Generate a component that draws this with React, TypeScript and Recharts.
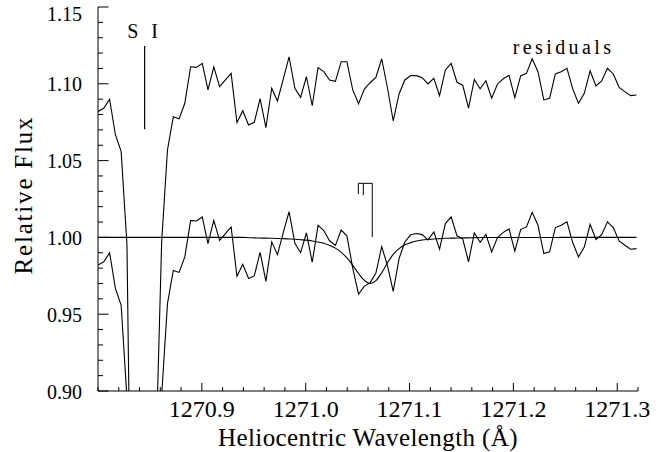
import React from "react";
import {
  LineChart,
  Line,
  XAxis,
  YAxis,
  ReferenceLine,
  ReferenceDot,
} from "recharts";

const FONT = '"Liberation Serif", "DejaVu Serif", serif';
const txt = { fontFamily: FONT, fill: "#000" };

// wavelength grid (Å), one entry per pixel of the spectrum
const wavelength = [
  1270.8, 1270.8056, 1270.8112, 1270.8167, 1270.8223, 1270.8279, 1270.8335, 1270.839,
  1270.8446, 1270.8502, 1270.8558, 1270.8613, 1270.8669, 1270.8725, 1270.8781, 1270.8836,
  1270.8892, 1270.8948, 1270.9004, 1270.9059, 1270.9115, 1270.9171, 1270.9227, 1270.9282,
  1270.9338, 1270.9394, 1270.945, 1270.9505, 1270.9561, 1270.9617, 1270.9673, 1270.9728,
  1270.9784, 1270.984, 1270.9896, 1270.9951, 1271.0007, 1271.0063, 1271.0119, 1271.0174,
  1271.023, 1271.0286, 1271.0342, 1271.0397, 1271.0453, 1271.0509, 1271.0565, 1271.062,
  1271.0676, 1271.0732, 1271.0788, 1271.0843, 1271.0899, 1271.0955, 1271.1011, 1271.1066,
  1271.1122, 1271.1178, 1271.1234, 1271.1289, 1271.1345, 1271.1401, 1271.1457, 1271.1512,
  1271.1568, 1271.1624, 1271.168, 1271.1735, 1271.1791, 1271.1847, 1271.1903, 1271.1958,
  1271.2014, 1271.207, 1271.2126, 1271.2181, 1271.2237, 1271.2293, 1271.2349, 1271.2404,
  1271.246, 1271.2516, 1271.2572, 1271.2627, 1271.2683, 1271.2739, 1271.2795, 1271.285,
  1271.2906, 1271.2962, 1271.3018, 1271.3073, 1271.3129, 1271.3185,
];

// normalised flux
const flux = [
  0.982, 0.9841, 0.99, 0.967, 0.9558, 0.895, 0.6, 0.35,
  0.28, 0.4, 0.76, 0.897, 0.9569, 0.9785, 0.9772, 0.9873,
  1.0111, 1.0107, 1.0133, 0.996, 1.0111, 0.9981, 1.0025, 1.0068,
  0.9747, 0.9825, 0.9732, 0.9749, 0.9903, 0.9714, 0.9971, 0.9888,
  1.0031, 1.0168, 0.9962, 0.99, 1.003, 0.9838, 1.0078, 1.0045,
  0.9978, 0.9948, 1.0048, 1.001, 0.98, 0.963, 0.9683, 0.9704,
  0.9768, 0.994, 0.9815, 0.9648, 0.9862, 0.997, 1.0017, 1.0025,
  1.0018, 0.9984, 1.0036, 0.9923, 1.009, 1.0133, 1.001, 0.9991,
  0.9841, 1.0029, 0.9968, 1.002, 0.9906, 0.9999, 1.0033, 1.0055,
  0.991, 1.0051, 1.0068, 1.0163, 1.0079, 0.9895, 0.9906, 1.0064,
  1.0079, 1.0101, 0.9965, 0.9873, 0.9938, 1.0085, 0.9986, 1.0018,
  1.0101, 1.0064, 0.9977, 0.9949, 0.9923, 0.9927,
];

// profile fit
const fit = [
  1, 1, 1, 1, 1, 1, 1, 1,
  1, 1, 1, 1, 1, 1, 1, 1,
  1, 1, 1, 1, 1, 1, 1, 1,
  1, 1, 0.9998, 0.9997, 0.9996, 0.9995, 0.9994, 0.9993,
  0.9992, 0.999, 0.9988, 0.9985, 0.9982, 0.9977, 0.997, 0.9962,
  0.9948, 0.993, 0.9903, 0.9866, 0.9818, 0.9765, 0.972, 0.97,
  0.9718, 0.977, 0.9835, 0.989, 0.9927, 0.9952, 0.9966, 0.9976,
  0.9983, 0.9987, 0.999, 0.9992, 0.9994, 0.9995, 0.9996, 0.9997,
  0.9997, 0.9998, 0.9999, 0.9999, 0.9999, 0.9999, 0.9999, 0.9999,
  0.9999, 0.9999, 0.9999, 0.9999, 0.9999, 0.9999, 0.9999, 0.9999,
  1, 1, 1, 1, 1, 1, 1, 1,
  1, 1, 1, 1, 1, 1,
];

// residuals, plotted with a +0.1 offset
const residuals = [
  1.082, 1.0841, 1.09, 1.067, 1.0558, 0.995, 0.7, 0.45,
  0.38, 0.5, 0.86, 0.997, 1.0569, 1.0785, 1.0772, 1.0873,
  1.1111, 1.1107, 1.1133, 1.096, 1.1111, 1.0981, 1.1025, 1.1068,
  1.0747, 1.0825, 1.0732, 1.0749, 1.0903, 1.0714, 1.0971, 1.0888,
  1.1031, 1.1176, 1.0971, 1.0912, 1.1046, 1.0857, 1.1105, 1.1079,
  1.1025, 1.1016, 1.1144, 1.1144, 1.096, 1.087, 1.0966, 1.1007,
  1.1042, 1.1163, 1.0971, 1.0758, 1.0934, 1.1025, 1.1053, 1.1053,
  1.104, 1.0999, 1.1036, 1.0923, 1.109, 1.1133, 1.101, 1.0991,
  1.0841, 1.1029, 1.0968, 1.102, 1.0906, 1.0999, 1.1033, 1.1055,
  1.091, 1.1051, 1.1068, 1.1163, 1.1079, 1.0895, 1.0906, 1.1064,
  1.1079, 1.1101, 1.0965, 1.0873, 1.0938, 1.1085, 1.0986, 1.1018,
  1.1101, 1.1064, 1.0977, 1.0949, 1.0923, 1.0927,
];

const xMajor = [1270.9, 1271.0, 1271.1, 1271.2, 1271.3];
const xMinor = [
  1270.8, 1270.82, 1270.84, 1270.86, 1270.88, 1270.92, 1270.94, 1270.96, 1270.98,
  1271.02, 1271.04, 1271.06, 1271.08, 1271.12, 1271.14, 1271.16, 1271.18,
  1271.22, 1271.24, 1271.26, 1271.28, 1271.32,
];
const yMajor = [0.9, 0.95, 1.0, 1.05, 1.1, 1.15];
const yMinor = [
  0.91, 0.92, 0.93, 0.94, 0.96, 0.97, 0.98, 0.99, 1.01, 1.02, 1.03, 1.04,
  1.06, 1.07, 1.08, 1.09, 1.11, 1.12, 1.13, 1.14,
];

// S I line marker
const siWave = 1270.8449;
const siTop = 1.1246;
const siBottom = 1.0704;
const siLabelY = 1.1296;

// component ticks above the absorption
const compWaves = [1271.0507, 1271.0555, 1271.0641];
const compTop = 1.0352;
const compBottoms = [1.0282, 1.0275, 1.0003];

const residLabelWave = 1271.2483;
const residLabelY = 1.1194;

const rows = wavelength.map((w, i) => ({
  wl: w,
  flux: flux[i],
  fit: fit[i],
  resid: residuals[i],
}));

const xTicks = [...xMajor, ...xMinor].sort((a, b) => a - b);
const yTicks = [...yMajor, ...yMinor].sort((a, b) => a - b);

const isMajor = (list: number[], v: number) =>
  list.some((m) => Math.abs(m - v) < 1e-6);

function BottomTick(p: any) {
  const v = p.payload.value;
  const major = isMajor(xMajor, v);
  return (
    <g>
      <line x1={p.x} y1={p.y} x2={p.x} y2={p.y - (major ? 8 : 4)} stroke="#000" />
      {major && (
        <text x={p.x} y={p.y + 26} textAnchor="middle" style={{ ...txt, fontSize: 24 }}>
          {v.toFixed(1)}
        </text>
      )}
    </g>
  );
}

function TopTick(p: any) {
  const major = isMajor(xMajor, p.payload.value);
  return <line x1={p.x} y1={p.y} x2={p.x} y2={p.y + (major ? 8 : 4)} stroke="#000" />;
}

function LeftTick(p: any) {
  const v = p.payload.value;
  const major = isMajor(yMajor, v);
  const dy = Math.abs(v - 1.15) < 1e-6 ? 13.5 : 7.5;
  return (
    <g>
      <line x1={p.x} y1={p.y} x2={p.x + (major ? 10.5 : 5)} y2={p.y} stroke="#000" />
      {major && (
        <text x={p.x - 16} y={p.y + dy} textAnchor="end" style={{ ...txt, fontSize: 20 }}>
          {v.toFixed(2)}
        </text>
      )}
    </g>
  );
}

function RightTick(p: any) {
  const major = isMajor(yMajor, p.payload.value);
  return <line x1={p.x} y1={p.y} x2={p.x - (major ? 10 : 4.5)} y2={p.y} stroke="#000" />;
}

function textAt(text: string, size: number, spacing: number) {
  return (props: any) => {
    const vb = props.viewBox || props;
    const cx = vb.x + (vb.width || 0) / 2;
    const cy = vb.y + (vb.height || 0) / 2;
    return (
      <text x={cx} y={cy} textAnchor="middle"
        style={{ ...txt, fontSize: size, letterSpacing: spacing }}>
        {text}
      </text>
    );
  };
}

function XTitle(props: any) {
  const vb = props.viewBox;
  return (
    <text x={vb.x + vb.width / 2} y={vb.y + 55} textAnchor="middle"
      style={{ ...txt, fontSize: 25, letterSpacing: 0.4 }}>
      Heliocentric Wavelength (Å)
    </text>
  );
}

function YTitle(props: any) {
  const vb = props.viewBox;
  const cx = 31.5;
  const cy = vb.y + vb.height / 2 - 4;
  return (
    <text x={cx} y={cy} transform={`rotate(-90, ${cx}, ${cy})`} textAnchor="middle"
      style={{ ...txt, fontSize: 25, letterSpacing: 1.8 }}>
      Relative Flux
    </text>
  );
}

export default function App() {
  return (
    <div style={{ position: "absolute", left: 0, top: 0, width: 668, height: 452, background: "#fff" }}>
      <LineChart width={668} height={452} data={rows} margin={{ top: 7, right: 30, bottom: 0, left: 0 }}>
        <XAxis
          xAxisId="b"
          type="number"
          dataKey="wl"
          domain={[1270.8, 1271.32]}
          allowDataOverflow
          ticks={xTicks}
          interval={0}
          height={61}
          tickSize={0}
          tickMargin={0}
          tickLine={false}
          axisLine={{ stroke: "#000" }}
          tick={BottomTick}
          label={XTitle}
        />
        <XAxis
          xAxisId="t"
          orientation="top"
          type="number"
          domain={[1270.8, 1271.32]}
          allowDataOverflow
          ticks={xTicks}
          interval={0}
          height={0}
          tickSize={0}
          tickMargin={0}
          tickLine={false}
          axisLine={{ stroke: "#000" }}
          tick={TopTick}
        />
        <YAxis
          yAxisId="l"
          type="number"
          domain={[0.9, 1.15]}
          allowDataOverflow
          ticks={yTicks}
          interval={0}
          width={98}
          tickSize={0}
          tickMargin={0}
          tickLine={false}
          axisLine={{ stroke: "#000" }}
          tick={LeftTick}
          label={YTitle}
        />
        <YAxis
          yAxisId="r"
          orientation="right"
          type="number"
          domain={[0.9, 1.15]}
          allowDataOverflow
          ticks={yTicks}
          interval={0}
          width={0}
          tickSize={0}
          tickMargin={0}
          tickLine={false}
          axisLine={{ stroke: "#000" }}
          tick={RightTick}
        />
        <Line xAxisId="b" yAxisId="l" type="monotone" dataKey="fit" stroke="#000" strokeWidth={1.1} dot={false} isAnimationActive={false} />
        <Line xAxisId="b" yAxisId="l" type="linear" dataKey="flux" stroke="#000" strokeWidth={1.1} dot={false} isAnimationActive={false} />
        <Line xAxisId="b" yAxisId="l" type="linear" dataKey="resid" stroke="#000" strokeWidth={1.1} dot={false} isAnimationActive={false} />

        <ReferenceLine xAxisId="b" yAxisId="l" segment={[{ x: siWave, y: siBottom }, { x: siWave, y: siTop }]} stroke="#000" strokeWidth={1.2} />
        <ReferenceDot xAxisId="b" yAxisId="l" x={siWave} y={siLabelY} r={0} fill="none" stroke="none" label={textAt("S I", 20, 4)} />

        <ReferenceLine xAxisId="b" yAxisId="l" segment={[{ x: compWaves[0], y: compTop }, { x: compWaves[2], y: compTop }]} stroke="#000" />
        {compWaves.map((w, i) => (
          <ReferenceLine key={i} xAxisId="b" yAxisId="l" segment={[{ x: w, y: compTop }, { x: w, y: compBottoms[i] }]} stroke="#000" />
        ))}

        <ReferenceDot xAxisId="b" yAxisId="l" x={residLabelWave} y={residLabelY} r={0} fill="none" stroke="none" label={textAt("residuals", 20, 3.4)} />
      </LineChart>
    </div>
  );
}
